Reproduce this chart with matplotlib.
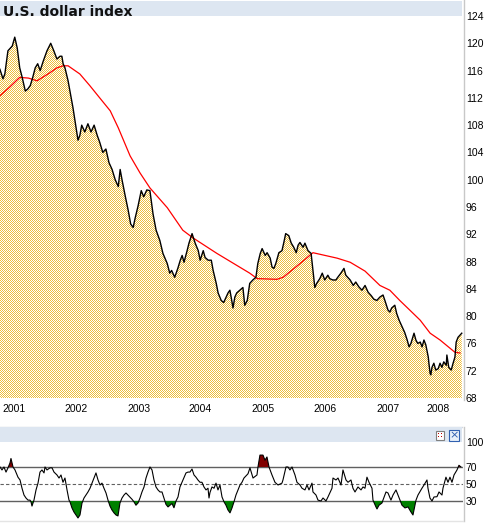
import numpy as np
import matplotlib
matplotlib.use("Agg")
import matplotlib.pyplot as plt
from matplotlib.patches import Rectangle
from matplotlib.lines import Line2D

title = "U.S. dollar index"

price_t = [2001.24, 2001.29, 2001.32, 2001.37, 2001.44, 2001.48, 2001.52, 2001.56, 2001.60, 2001.65, 2001.69, 2001.73, 2001.77, 2001.81, 2001.85, 2001.89, 2001.94,
           2002.00, 2002.06, 2002.11, 2002.16, 2002.21, 2002.24, 2002.26, 2002.29, 2002.34, 2002.39, 2002.42, 2002.47, 2002.50, 2002.53, 2002.56, 2002.61, 2002.66, 2002.71, 2002.76, 2002.81, 2002.85, 2002.90, 2002.95,
           2003.00, 2003.05, 2003.10, 2003.15, 2003.18, 2003.21, 2003.26, 2003.31, 2003.35, 2003.39, 2003.42, 2003.47, 2003.52, 2003.56, 2003.61, 2003.66, 2003.71, 2003.76, 2003.82, 2003.87, 2003.94, 2003.98,
           2004.01, 2004.06, 2004.11, 2004.15, 2004.18, 2004.21, 2004.26, 2004.29, 2004.34, 2004.39, 2004.44, 2004.47, 2004.52, 2004.55, 2004.60, 2004.65, 2004.68, 2004.73, 2004.76, 2004.81, 2004.85, 2004.89, 2004.92, 2004.95, 2004.98,
           2005.00, 2005.03, 2005.06, 2005.11, 2005.16, 2005.19, 2005.23, 2005.27, 2005.32, 2005.37, 2005.40, 2005.44, 2005.47, 2005.52, 2005.55, 2005.60, 2005.63, 2005.66, 2005.69, 2005.74, 2005.79, 2005.82, 2005.85, 2005.90, 2005.94, 2005.98,
           2006.02, 2006.05, 2006.08, 2006.13, 2006.16, 2006.21, 2006.26, 2006.29, 2006.32, 2006.35, 2006.40, 2006.44, 2006.48, 2006.53, 2006.56, 2006.61, 2006.66, 2006.69, 2006.74, 2006.79, 2006.82, 2006.85, 2006.89, 2006.94, 2006.98,
           2007.03, 2007.08, 2007.13, 2007.18, 2007.23, 2007.27, 2007.32, 2007.37, 2007.42, 2007.45, 2007.50, 2007.53, 2007.56, 2007.61, 2007.64, 2007.68, 2007.73, 2007.77, 2007.81, 2007.84, 2007.87, 2007.92, 2007.95, 2007.98,
           2008.02, 2008.05, 2008.08, 2008.11, 2008.15, 2008.16, 2008.18, 2008.19, 2008.21, 2008.24, 2008.27, 2008.31, 2008.34, 2008.37, 2008.40, 2008.44, 2008.45, 2008.48, 2008.52, 2008.55, 2008.58, 2008.60, 2008.63, 2008.66, 2008.69]
price_v = [116.2, 114.8, 115.5, 118.9, 119.6, 120.9, 119.3, 116.4, 115.0, 113.0, 113.3, 113.8, 115.0, 116.4, 117.0, 116.0, 117.4,
           118.9, 120.0, 118.9, 117.7, 118.1, 118.1, 117.0, 116.4, 114.5, 112.0, 110.5, 107.6, 105.8, 106.5, 108.0, 107.0, 108.2, 107.0, 108.0, 106.5, 105.5, 104.0, 104.5,
           102.5, 101.5, 100.0, 99.0, 101.5, 100.0, 97.7, 95.5, 93.5, 93.0, 94.3, 96.2, 98.4, 97.5, 98.5, 98.4, 95.0, 92.6, 91.1, 89.2, 87.7, 86.3,
           86.7, 85.7, 87.0, 88.2, 88.9, 87.9, 89.6, 90.7, 92.1, 90.7, 89.6, 88.2, 89.6, 88.6, 88.2, 88.2, 86.7, 84.8, 83.4, 82.3, 82.0, 82.8, 83.4, 83.8, 82.3,
           81.2, 82.8, 83.4, 83.8, 84.2, 81.6, 82.3, 84.8, 85.3, 85.7, 87.7, 89.2, 89.9, 88.9, 89.3, 88.5, 87.2, 87.0, 87.7, 89.3, 89.6, 90.8, 92.1, 91.8, 90.7, 90.1,
           89.3, 90.4, 90.8, 90.1, 90.7, 89.6, 89.2, 86.7, 84.2, 84.8, 85.5, 86.3, 85.3, 86.0, 85.5, 85.3, 85.3, 85.7, 86.3, 87.0, 86.0, 85.7, 85.3, 84.5, 85.0,
           84.3, 83.8, 84.5, 83.5, 83.0, 82.5, 82.3, 82.8, 83.1, 82.3, 80.9, 80.6, 81.2, 81.6, 80.4, 79.4, 78.4, 77.6, 76.5, 75.5, 76.0, 77.5, 76.5, 76.0,
           76.2, 75.5, 76.5, 75.8, 74.0, 73.1, 71.6, 71.4, 72.5, 73.1, 72.1, 72.3, 73.1, 72.5, 73.3, 72.8, 74.3, 72.5, 72.1, 73.1, 74.0, 76.2, 76.9, 77.2, 77.5]

ma_t = [2001.24, 2001.40, 2001.56, 2001.70, 2001.84, 2002.05, 2002.16, 2002.26, 2002.34, 2002.53, 2002.69, 2002.85, 2003.02, 2003.15, 2003.34, 2003.50, 2003.66, 2003.94,
        2004.19, 2004.35, 2004.74, 2005.27, 2005.39, 2005.71, 2005.81, 2006.08, 2006.29, 2006.68, 2006.89, 2007.13, 2007.37, 2007.53, 2007.69, 2007.85, 2008.02, 2008.18, 2008.34, 2008.50, 2008.58, 2008.66]
ma_v = [112.3, 113.6, 115.0, 114.9, 114.5, 115.7, 116.4, 116.7, 116.7, 115.5, 113.8, 112.0, 110.1, 107.6, 103.5, 101.0, 98.8, 95.9,
        92.6, 91.5, 89.2, 86.3, 85.5, 85.4, 85.7, 87.7, 89.3, 88.5, 87.9, 86.6, 84.5, 83.8, 82.3, 80.9, 79.4, 77.5, 76.5, 75.3, 74.7, 74.6]

rsi_t = [2001.242, 2001.274, 2001.306, 2001.339, 2001.371, 2001.403, 2001.419, 2001.452, 2001.484, 2001.532, 2001.565, 2001.597, 2001.629, 2001.661, 2001.694, 2001.726, 2001.742, 2001.758, 2001.790, 2001.823, 2001.855, 2001.887, 2001.919, 2001.952, 2001.968,
         2002.000, 2002.048, 2002.081, 2002.113, 2002.161, 2002.194, 2002.226, 2002.258, 2002.290, 2002.323, 2002.355, 2002.371, 2002.403, 2002.435, 2002.468, 2002.500, 2002.532, 2002.565, 2002.597, 2002.629, 2002.661, 2002.694, 2002.726, 2002.758, 2002.790, 2002.823, 2002.855, 2002.887, 2002.919, 2002.952, 2002.984,
         2003.016, 2003.048, 2003.081, 2003.113, 2003.145, 2003.177, 2003.210, 2003.242, 2003.274, 2003.306, 2003.339, 2003.371, 2003.403, 2003.435, 2003.468, 2003.500, 2003.532, 2003.565, 2003.597, 2003.629, 2003.661, 2003.694, 2003.726, 2003.758, 2003.790, 2003.823, 2003.855, 2003.887, 2003.919, 2003.952, 2003.984,
         2004.016, 2004.048, 2004.081, 2004.113, 2004.145, 2004.177, 2004.210, 2004.242, 2004.274, 2004.306, 2004.339, 2004.371, 2004.403, 2004.435, 2004.468, 2004.500, 2004.532, 2004.565, 2004.597, 2004.613, 2004.629, 2004.661, 2004.694, 2004.726, 2004.758, 2004.790, 2004.823, 2004.855, 2004.887, 2004.919, 2004.952, 2004.984,
         2005.016, 2005.048, 2005.081, 2005.113, 2005.145, 2005.177, 2005.242, 2005.274, 2005.323, 2005.387, 2005.403, 2005.435, 2005.484, 2005.516, 2005.548, 2005.581, 2005.629, 2005.677, 2005.726, 2005.790, 2005.806, 2005.855, 2005.887, 2005.919, 2005.952,
         2006.000, 2006.032, 2006.081, 2006.113, 2006.161, 2006.194, 2006.226, 2006.274, 2006.290, 2006.339, 2006.371, 2006.419, 2006.452, 2006.500, 2006.532, 2006.597, 2006.613, 2006.661, 2006.694, 2006.742, 2006.774, 2006.823, 2006.855, 2006.903, 2006.935, 2006.968,
         2007.016, 2007.065, 2007.097, 2007.129, 2007.161, 2007.194, 2007.242, 2007.258, 2007.306, 2007.323, 2007.355, 2007.403, 2007.419, 2007.468, 2007.500, 2007.548, 2007.581, 2007.629, 2007.661, 2007.694, 2007.726, 2007.774, 2007.823, 2007.871, 2007.903, 2007.919, 2007.952, 2007.984,
         2008.048, 2008.081, 2008.129, 2008.145, 2008.177, 2008.210, 2008.242, 2008.290, 2008.323, 2008.371, 2008.387, 2008.435, 2008.468, 2008.500, 2008.532, 2008.565, 2008.613, 2008.645, 2008.677]
rsi_v = [70, 66.5, 70, 64, 69, 74.7, 80, 70, 66.5, 58, 54.7, 45, 37, 33.5, 31, 31, 29, 24, 31, 43, 51, 64, 66.5, 63, 70,
         66.5, 69, 69, 64, 60.6, 57, 60.6, 52, 57, 43, 31, 29, 21.8, 17, 13.5, 10, 13.5, 27.6, 33.5, 37, 40.6, 45, 51, 57, 63, 54.7, 48.8, 51, 45, 39.4, 31,
         24, 19.4, 16, 13.5, 12.4, 27.6, 33.5, 37, 39.4, 37, 34.7, 32, 29, 25, 27.6, 33.5, 40.6, 46.5, 57, 64, 70, 66.5, 54.7, 46.5, 43, 40.6, 40.6, 33.5, 26, 23, 25,
         27, 22, 30, 34.7, 46.5, 52, 58, 63, 64, 64, 67.6, 60.6, 58, 54.7, 52, 52, 46.5, 43, 45, 33.5, 40, 46.5, 45, 51, 43, 48.8, 34.7, 29, 25, 19.4, 16, 21.8,
         29, 37, 43, 48.8, 52, 57, 62, 69, 57, 60.6, 70, 84, 84, 78, 81.8, 70, 60.6, 52, 48.8, 51, 54.7, 70, 70, 66.5, 70,
         60.6, 52, 48.8, 45, 43, 48.8, 43, 51, 40.6, 37, 31, 30, 33.5, 30, 34.7, 45, 57, 54.7, 57, 48.8, 66.5, 54.7, 52, 54.7, 45, 40.6,
         46.5, 43, 46.5, 45, 58, 52, 45, 31, 23, 20.6, 25, 27.6, 31, 40.6, 39.4, 31, 37, 43, 37, 31, 25, 21.8, 23, 17, 13.5, 19.4, 31, 37,
         45, 48.8, 54.7, 45, 33.5, 30, 34.7, 35, 40.6, 37, 45, 58, 52, 58, 52, 60.6, 66.5, 72, 70]

price_ticks = [68, 72, 76, 80, 84, 88, 92, 96, 100, 104, 108, 112, 116, 120, 124]
year_tick_pos = [2001.47, 2002.47, 2003.48, 2004.47, 2005.48, 2006.48, 2007.50, 2008.30]
year_labels = ["2001", "2002", "2003", "2004", "2005", "2006", "2007", "2008"]
rsi_ticks = [30, 50, 70, 100]
rsi_tick_labels = ["30", "50", "70", "100"]

W, H = 486, 523
fig = plt.figure(figsize=(W / 100, H / 100), dpi=100)
fig.patch.set_facecolor("white")


def rect(x0, y0, x1, y1):
    return [x0 / W, 1 - y1 / H, (x1 - x0) / W, (y1 - y0) / H]


def fx(x):
    return x / W


def fy(y):
    return 1 - y / H


XLIM = (2001.242, 2008.71)
LBL_FONT = "Liberation Sans"

# ---------------- main panel ----------------
ax = fig.add_axes(rect(0, 16, 463, 398))
ax.patch.set_visible(False)
ax.set_xlim(*XLIM)
ax.set_ylim(68, 124)
for s in ax.spines.values():
    s.set_visible(False)

poly = ax.fill_between(price_t, price_v, 68, facecolor="none", edgecolor="none")
yy, xx = np.mgrid[0:H, 0:W]
checker = np.ones((H, W, 3))
checker[(xx + yy) % 2 == 0] = np.array([238, 190, 60]) / 255.0
im = fig.figimage(checker, xo=0, yo=0, zorder=-1)
im.set_clip_path(poly.get_paths()[0], poly.get_transform())

ax.plot(ma_t, ma_v, color="#ff0000", lw=0.9, zorder=3)
ax.plot(price_t, price_v, color="black", lw=1.0, zorder=4)

ax.yaxis.tick_right()
ax.set_yticks(price_ticks)
ax.set_yticklabels([str(v) for v in price_ticks])
ax.set_xticks(year_tick_pos)
ax.set_xticklabels(year_labels)
ax.tick_params(axis="both", length=0, labelsize=7.5, colors="black")
ax.tick_params(axis="y", pad=2)
ax.tick_params(axis="x", pad=4)
for lab in ax.get_xticklabels() + ax.get_yticklabels():
    lab.set_fontfamily(LBL_FONT)

# header bar main
fig.patches.append(Rectangle((0, fy(16)), fx(462), 15 / H, transform=fig.transFigure,
                             facecolor="#dde6f1", edgecolor="none", zorder=5))
fig.text(fx(3), fy(15.5), title, fontsize=10, fontweight="bold", family="DejaVu Sans",
         va="baseline", ha="left", color="#111111", zorder=6)

# right border line main
fig.lines.append(Line2D([fx(463.5), fx(463.5)], [fy(0), fy(400)], transform=fig.transFigure,
                        color="#c8c8c8", lw=1))

# ---------------- RSI panel ----------------
ax2 = fig.add_axes(rect(0, 441.5, 463, 520))
ax2.patch.set_visible(False)
ax2.set_xlim(*XLIM)
ax2.set_ylim(7.6, 100)
for s in ax2.spines.values():
    s.set_visible(False)
rv = np.array(rsi_v, dtype=float)
rt = np.array(rsi_t, dtype=float)
ax2.axhline(70, color="#606060", lw=1.0, zorder=1)
ax2.axhline(30, color="#606060", lw=1.0, zorder=1)
ax2.axhline(50, color="#606060", lw=0.8, ls=(0, (3, 2)), zorder=1)
ax2.fill_between(rt, rv, 30, where=rv < 30, interpolate=True, color="#008000", lw=0, zorder=2)
ax2.fill_between(rt, rv, 70, where=rv > 70, interpolate=True, color="#800000", lw=0, zorder=2)
ax2.plot(rt, rv, color="black", lw=0.8, zorder=3)
ax2.yaxis.tick_right()
ax2.set_yticks(rsi_ticks)
ax2.set_yticklabels(rsi_tick_labels)
ax2.set_xticks([])
ax2.tick_params(axis="y", length=0, labelsize=7.5, pad=2)
for lab in ax2.get_yticklabels():
    lab.set_fontfamily(LBL_FONT)

# RSI header bar
fig.patches.append(Rectangle((0, fy(442)), fx(462), 15 / H, transform=fig.transFigure,
                             facecolor="#dde6f1", edgecolor="none", zorder=5))
fig.lines.append(Line2D([0, fx(462)], [fy(427), fy(427)], transform=fig.transFigure,
                        color="#d4d8de", lw=1))
# small icons
fig.patches.append(Rectangle((fx(436), fy(440)), 8 / W, 9 / H, transform=fig.transFigure,
                             facecolor="white", edgecolor="#808080", lw=0.8, zorder=6))
for dx, dy in [(438.5, 433.5), (441.5, 433.5), (438.5, 436.5), (441.5, 436.5)]:
    fig.patches.append(Rectangle((fx(dx - 0.8), fy(dy + 0.8)), 1.6 / W, 1.6 / H, transform=fig.transFigure,
                                 facecolor="#c00000", edgecolor="none", zorder=7))
fig.patches.append(Rectangle((fx(449), fy(441)), 10 / W, 11 / H, transform=fig.transFigure,
                             facecolor="#e8f0fa", edgecolor="#3060b0", lw=0.8, zorder=6))
fig.text(fx(454), fy(435.5), "×", fontsize=8, color="#3060b0", ha="center", va="center", zorder=7)

fig.lines.append(Line2D([fx(463.5), fx(463.5)], [fy(427), fy(521)], transform=fig.transFigure,
                        color="#c8c8c8", lw=1))
fig.lines.append(Line2D([0, fx(463)], [fy(520.5), fy(520.5)], transform=fig.transFigure,
                        color="#e4e4e4", lw=1))

fig.savefig("out.png", dpi=100)
